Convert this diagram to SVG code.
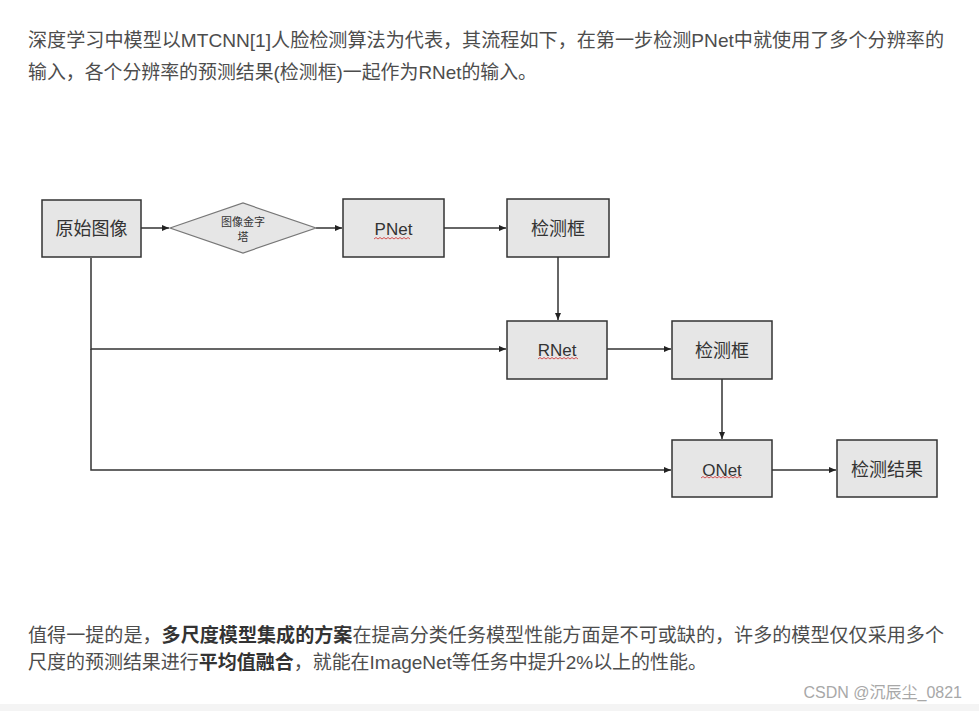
<svg xmlns="http://www.w3.org/2000/svg" width="979" height="711" viewBox="0 0 979 711">
<style>
.p{font-family:"Liberation Sans","Noto Sans CJK SC",sans-serif;font-size:19px;fill:#4d4d4d}
.b{font-weight:bold;fill:#333}
.box{fill:#e6e6e6;stroke:#333;stroke-width:1.5}
.dia{fill:#e6e6e6;stroke:#777;stroke-width:1.2}
.lbl{font-family:"Liberation Sans","Noto Sans CJK SC",sans-serif;font-size:17px;fill:#333;text-anchor:middle}
.sm{font-family:"Noto Sans CJK SC",sans-serif;font-size:11px;fill:#333;text-anchor:middle}
.ln{fill:none;stroke:#333;stroke-width:1.5}
.sq{fill:none;stroke:#d04040;stroke-width:0.9}
</style>
<defs>
<marker id="ah" markerWidth="8" markerHeight="8" refX="7" refY="4" orient="auto" markerUnits="userSpaceOnUse">
<path d="M0,1 L7,4 L0,7 Z" fill="#222"/>
</marker>
</defs>
<rect width="979" height="711" fill="#fff"/>
<rect x="0" y="704" width="979" height="7" fill="#f4f4f4"/>

<text class="p" x="28" y="47" textLength="916" lengthAdjust="spacingAndGlyphs">深度学习中模型以MTCNN[1]人脸检测算法为代表，其流程如下，在第一步检测PNet中就使用了多个分辨率的</text>
<text class="p" x="28" y="79" textLength="509" lengthAdjust="spacingAndGlyphs">输入，各个分辨率的预测结果(检测框)一起作为RNet的输入。</text>

<g id="connectors">
<line class="ln" x1="141" y1="228" x2="169" y2="228" marker-end="url(#ah)"/>
<line class="ln" x1="316" y1="228" x2="342" y2="228" marker-end="url(#ah)"/>
<line class="ln" x1="444" y1="228" x2="506" y2="228" marker-end="url(#ah)"/>
<line class="ln" x1="558" y1="257" x2="558" y2="320" marker-end="url(#ah)"/>
<line class="ln" x1="607" y1="349" x2="671" y2="349" marker-end="url(#ah)"/>
<line class="ln" x1="722" y1="379" x2="722" y2="439" marker-end="url(#ah)"/>
<line class="ln" x1="772" y1="470" x2="836" y2="470" marker-end="url(#ah)"/>
<polyline class="ln" points="91,258 91,349 506,349" marker-end="url(#ah)"/>
<polyline class="ln" points="91,349 91,470 671,470" marker-end="url(#ah)"/>
</g>

<g id="n-input">
<rect class="box" x="42" y="200" width="99" height="57"/>
<text class="lbl" x="91.5" y="235" style="font-size:18px">原始图像</text>
</g>
<g id="n-pyramid">
<polygon class="dia" points="170,228 243,203 316,228 243,253"/>
<text class="sm" x="243" y="226">图像金字</text>
<text class="sm" x="243" y="241">塔</text>
</g>
<g id="n-pnet">
<rect class="box" x="343" y="199" width="101" height="58"/>
<text class="lbl" x="393.5" y="235">PNet</text>
<path class="sq" d="M374,239 l2,-1.5 l2,1.5 l2,-1.5 l2,1.5 l2,-1.5 l2,1.5 l2,-1.5 l2,1.5 l2,-1.5 l2,1.5 l2,-1.5 l2,1.5 l2,-1.5 l2,1.5 l2,-1.5 l2,1.5 l2,-1.5 l2,1.5"/>
</g>
<g id="n-box1">
<rect class="box" x="507" y="199" width="102" height="58"/>
<text class="lbl" x="558" y="235" style="font-size:18px">检测框</text>
</g>
<g id="n-rnet">
<rect class="box" x="507" y="321" width="100" height="58"/>
<text class="lbl" x="557" y="356">RNet</text>
<path class="sq" d="M538,359 l2,-1.5 l2,1.5 l2,-1.5 l2,1.5 l2,-1.5 l2,1.5 l2,-1.5 l2,1.5 l2,-1.5 l2,1.5 l2,-1.5 l2,1.5 l2,-1.5 l2,1.5 l2,-1.5 l2,1.5 l2,-1.5 l2,1.5 l2,-1.5 l2,1.5"/>
</g>
<g id="n-box2">
<rect class="box" x="672" y="321" width="100" height="58"/>
<text class="lbl" x="722" y="357" style="font-size:18px">检测框</text>
</g>
<g id="n-onet">
<rect class="box" x="672" y="440" width="100" height="57"/>
<text class="lbl" x="722" y="476">ONet</text>
<path class="sq" d="M701,478 l2,-1.5 l2,1.5 l2,-1.5 l2,1.5 l2,-1.5 l2,1.5 l2,-1.5 l2,1.5 l2,-1.5 l2,1.5 l2,-1.5 l2,1.5 l2,-1.5 l2,1.5 l2,-1.5 l2,1.5 l2,-1.5 l2,1.5 l2,-1.5 l2,1.5"/>
</g>
<g id="n-result">
<rect class="box" x="837" y="440" width="100" height="57"/>
<text class="lbl" x="887" y="476" style="font-size:18px">检测结果</text>
</g>

<text class="p" x="28" y="642" textLength="916" lengthAdjust="spacingAndGlyphs">值得一提的是，<tspan class="b">多尺度模型集成的方案</tspan>在提高分类任务模型性能方面是不可或缺的，许多的模型仅仅采用多个</text>
<text class="p" x="28" y="669" textLength="679" lengthAdjust="spacingAndGlyphs">尺度的预测结果进行<tspan class="b">平均值融合</tspan>，就能在ImageNet等任务中提升2%以上的性能。</text>
<text x="962" y="698" text-anchor="end" style="font-family:'Liberation Sans','Noto Sans CJK SC',sans-serif;font-size:16px;fill:#a8a8a8">CSDN @沉辰尘_0821</text>
</svg>
